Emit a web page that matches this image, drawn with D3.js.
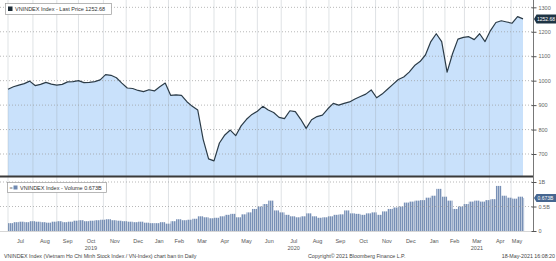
<!DOCTYPE html>
<html>
<head>
<meta charset="utf-8">
<script src="https://cdn.jsdelivr.net/npm/d3@7"></script>
<style>
body { margin: 0; background: #fff; }
svg text { font-family: "Liberation Sans", Arial, sans-serif; }
</style>
</head>
<body>
<svg width="556" height="261"></svg>
<script>
// trading days per month, Jul 2019 .. May 2021 (to 18th)
var months = ["Jul","Aug","Sep","Oct","Nov","Dec","Jan","Feb","Mar","Apr","May","Jun",
              "Jul","Aug","Sep","Oct","Nov","Dec","Jan","Feb","Mar","Apr","May"];
var monthDays = [23,22,20,23,21,22,17,20,22,20,20,22,23,21,21,22,21,23,20,18,23,20,11];
var years = ["2019","2020","2021"];
var yearMonthCount = [6, 12, 5];

var priceTicks = [700, 800, 900, 1000, 1100, 1200, 1300];
var volTicks = [0, 0.5, 1];
var volTickLabels = ["0", "0.5B", "1B"];

// weekly (every 5 trading days) close, VN-Index
var price = [965,975,982,988,998,980,985,993,986,982,985,995,996,1000,992,993,996,1003,1025,1022,
             1012,990,970,968,960,955,963,958,975,990,940,942,940,914,895,880,760,680,672,745,
             778,798,775,815,842,862,875,895,880,870,850,845,877,873,842,805,840,853,859,885,
             907,900,907,913,925,935,945,962,930,945,965,985,1005,1015,1035,1062,1078,1105,1160,1192,
             1160,1035,1110,1170,1177,1180,1168,1192,1160,1205,1238,1245,1240,1235,1262,1252.68];
// weekly volume, billions of shares
var volume = [0.16,0.18,0.19,0.18,0.2,0.19,0.18,0.17,0.19,0.2,0.18,0.19,0.21,0.22,0.2,0.21,0.22,0.23,0.24,0.22,
              0.21,0.2,0.19,0.18,0.19,0.17,0.16,0.16,0.18,0.15,0.2,0.24,0.22,0.23,0.25,0.3,0.28,0.26,0.27,0.3,
              0.33,0.35,0.28,0.34,0.38,0.45,0.5,0.55,0.62,0.42,0.38,0.33,0.3,0.28,0.3,0.36,0.3,0.27,0.28,0.3,
              0.33,0.34,0.42,0.36,0.35,0.33,0.36,0.38,0.33,0.4,0.45,0.48,0.5,0.58,0.6,0.62,0.63,0.68,0.72,0.86,
              0.7,0.62,0.45,0.5,0.55,0.6,0.62,0.6,0.63,0.65,0.92,0.72,0.68,0.66,0.7,0.673];
var step = 5;
var lastPrice = 1252.68, lastVolume = 0.673;

var svg = d3.select("svg");
var totalDays = d3.sum(monthDays);

var x = d3.scaleLinear().domain([0, totalDays]).range([8, 523]);
var y = d3.scaleLinear().domain([610, 1330]).range([176, 0]);
var yv = d3.scaleLinear().domain([0, 1]).range([231, 182]);

var bounds = [0];
monthDays.forEach(function(d, i) { bounds.push(bounds[i] + d); });

var defs = svg.append("defs");
var pat = defs.append("pattern").attr("id", "stripes").attr("patternUnits", "userSpaceOnUse")
  .attr("width", 2).attr("height", 4);
pat.append("rect").attr("width", 2).attr("height", 4).attr("fill", "#c3cfe0");
pat.append("rect").attr("width", 1.1).attr("height", 4).attr("fill", "#7890b6");

// price area + line
var pts = price.map(function(v, i) { return [Math.min(i * step, totalDays), v]; });
var area = d3.area().x(function(d) { return x(d[0]); }).y0(176).y1(function(d) { return y(d[1]); });
var line = d3.line().x(function(d) { return x(d[0]); }).y(function(d) { return y(d[1]); });

svg.append("path").attr("d", area(pts)).attr("fill", "#c9e1fb");

// volume bars
svg.append("g").selectAll("rect").data(volume).enter().append("rect")
  .attr("x", function(d, i) { return x(i * step); })
  .attr("y", function(d) { return yv(d); })
  .attr("width", function(d, i) { return x(Math.min((i + 1) * step, totalDays + 1)) - x(i * step); })
  .attr("height", function(d) { return 231 - yv(d); })
  .attr("fill", "url(#stripes)");

// grid
var grid = svg.append("g");
grid.selectAll(".vg").data(bounds.slice(0, -1)).enter().append("line")
  .attr("x1", function(d) { return x(d); }).attr("x2", function(d) { return x(d); })
  .attr("y1", 0).attr("y2", 231)
  .attr("stroke", "#9aa3ad").attr("stroke-opacity", 0.4).attr("stroke-width", 0.8);
grid.selectAll(".hg").data(priceTicks).enter().append("line")
  .attr("x1", 0).attr("x2", 533)
  .attr("y1", function(d) { return y(d); }).attr("y2", function(d) { return y(d); })
  .attr("stroke", "#999").attr("stroke-dasharray", "1,2").attr("stroke-width", 0.7);
grid.selectAll(".hv").data(volTicks.slice(1)).enter().append("line")
  .attr("x1", 0).attr("x2", 533)
  .attr("y1", function(d) { return yv(d); }).attr("y2", function(d) { return yv(d); })
  .attr("stroke", "#999").attr("stroke-dasharray", "1,2").attr("stroke-width", 0.7);

svg.append("path").attr("d", line(pts)).attr("fill", "none")
  .attr("stroke", "#2c3c48").attr("stroke-width", 1.2).attr("stroke-linejoin", "round");

// panel separators / axis lines
svg.append("line").attr("x1", 0).attr("x2", 533).attr("y1", 176.5).attr("y2", 176.5)
  .attr("stroke", "#3a3a3a").attr("stroke-width", 2);
svg.append("line").attr("x1", 0).attr("x2", 533).attr("y1", 231.5).attr("y2", 231.5)
  .attr("stroke", "#bbb").attr("stroke-width", 0.6);
svg.append("line").attr("x1", 533.5).attr("x2", 533.5).attr("y1", 0).attr("y2", 232)
  .attr("stroke", "#555").attr("stroke-width", 0.8);

// right axes
var ax = svg.append("g").attr("transform", "translate(533.5,0)");
ax.call(d3.axisRight(y).tickValues(priceTicks).tickSize(3).tickPadding(2).tickFormat(d3.format("d")));
var axv = svg.append("g").attr("transform", "translate(533.5,0)");
axv.call(d3.axisRight(yv).tickValues(volTicks).tickSize(3).tickPadding(2)
  .tickFormat(function(d, i) { return volTickLabels[i]; }));
[ax, axv].forEach(function(a) {
  a.select(".domain").remove();
  a.selectAll("line").attr("stroke", "#555").attr("x1", -2);
  a.selectAll("text").attr("font-size", 5.5).attr("fill", "#666")
    .style("font-family", "Liberation Sans, Arial, sans-serif");
});

// last value tags
svg.append("path").attr("d", "M534," + y(lastPrice) + "l2.5,-4.5h19.5v9h-19.5z").attr("fill", "#1e3444");
svg.append("text").attr("x", 537).attr("y", y(lastPrice) + 1.8).attr("font-size", 5)
  .attr("fill", "#fff").text(lastPrice.toFixed(2));
svg.append("path").attr("d", "M534," + yv(lastVolume) + "l2.5,-4h19.5v8h-19.5z").attr("fill", "#466690");
svg.append("text").attr("x", 537.5).attr("y", yv(lastVolume) + 1.8).attr("font-size", 5)
  .attr("fill", "#fff").text(lastVolume.toFixed(3) + "B");

// month and year labels
svg.append("g").selectAll("text").data(months).enter().append("text")
  .attr("x", function(d, i) { return x((bounds[i] + bounds[i + 1]) / 2); })
  .attr("y", 243).attr("text-anchor", "middle").attr("font-size", 5.5).attr("fill", "#555")
  .text(function(d) { return d; });
var mIdx = 0;
years.forEach(function(yr, k) {
  var mid = mIdx + Math.floor(yearMonthCount[k] / 2);
  svg.append("text").attr("x", x((bounds[mid] + bounds[mid + 1]) / 2)).attr("y", 250)
    .attr("text-anchor", "middle").attr("font-size", 5.5).attr("fill", "#555").text(yr);
  mIdx += yearMonthCount[k];
});

// legends
var lg = svg.append("g");
lg.append("rect").attr("x", 5.5).attr("y", 3.5).attr("width", 106).attr("height", 11)
  .attr("fill", "#fff").attr("stroke", "#999").attr("stroke-width", 0.7);
lg.append("rect").attr("x", 8).attr("y", 6.5).attr("width", 4.5).attr("height", 4.5).attr("fill", "#1c2b36");
lg.append("text").attr("x", 15).attr("y", 11).attr("font-size", 5.5).attr("fill", "#333")
  .text("VNINDEX Index - Last Price " + lastPrice.toFixed(2));

var lv = svg.append("g");
lv.append("rect").attr("x", 7.5).attr("y", 182.5).attr("width", 99).attr("height", 10)
  .attr("fill", "#fff").attr("stroke", "#999").attr("stroke-width", 0.7);
lv.append("text").attr("x", 9.5).attr("y", 189.5).attr("font-size", 5.5).attr("fill", "#777").text("=");
lv.append("rect").attr("x", 13.5).attr("y", 185.5).attr("width", 4).attr("height", 4).attr("fill", "#6f88b0");
lv.append("text").attr("x", 20).attr("y", 189.8).attr("font-size", 5.5).attr("fill", "#333")
  .text("VNINDEX Index - Volume " + lastVolume.toFixed(3) + "B");

// footer
svg.append("text").attr("x", 4).attr("y", 258).attr("font-size", 5.3).attr("fill", "#444")
  .text("VNINDEX Index (Vietnam Ho Chi Minh Stock Index / VN-Index) chart ban tin  Daily");
svg.append("text").attr("x", 308).attr("y", 258).attr("font-size", 5.3).attr("fill", "#444")
  .text("Copyright\u00a9 2021 Bloomberg Finance L.P.");
svg.append("text").attr("x", 555).attr("y", 258).attr("text-anchor", "end").attr("font-size", 5.3)
  .attr("fill", "#444").text("18-May-2021 16:08:20");
</script>
</body>
</html>
